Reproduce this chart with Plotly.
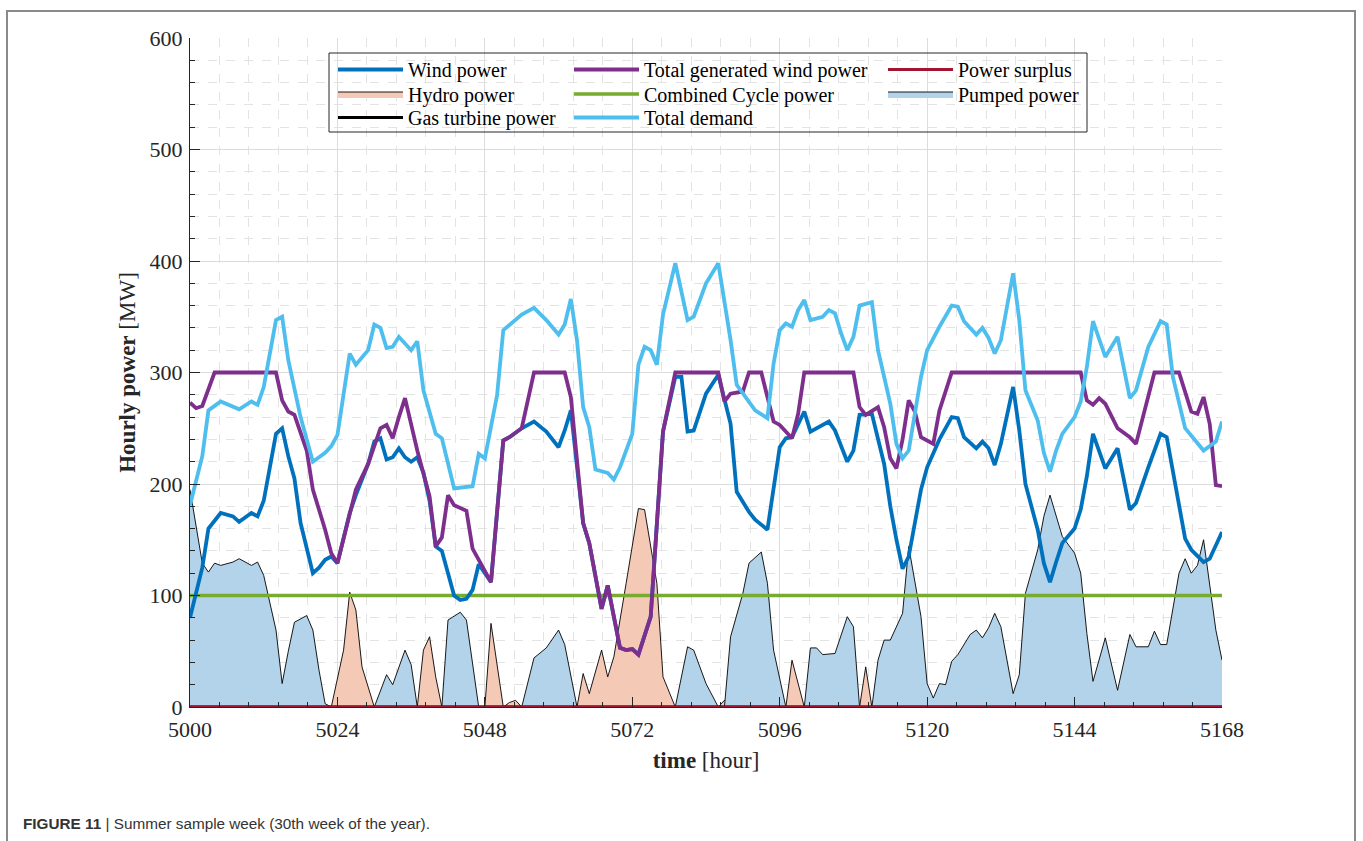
import plotly.graph_objects as go

# ---------------- data ----------------
wind_hours = [5000, 5002, 5003, 5005, 5007, 5008, 5010, 5011, 5012, 5014, 5015, 5016, 5017, 5018,
              5020, 5021, 5022, 5023, 5024, 5026, 5027, 5029, 5030, 5031, 5032, 5033, 5034, 5035,
              5036, 5037, 5038, 5039, 5040, 5041, 5042, 5043, 5044, 5045, 5046, 5047, 5048, 5049,
              5051, 5052, 5054, 5056, 5058, 5060, 5061, 5062, 5064, 5065, 5067, 5068, 5070, 5071,
              5072, 5073, 5075, 5077, 5079, 5080, 5081, 5082, 5084, 5086, 5088, 5089, 5091, 5092,
              5094, 5096, 5097, 5098, 5100, 5101, 5104, 5105, 5107, 5108, 5109, 5111, 5113, 5114,
              5115, 5116, 5117, 5119, 5120, 5121, 5122, 5124, 5125, 5126, 5128, 5129, 5130, 5131,
              5132, 5134, 5135, 5136, 5138, 5139, 5140, 5141, 5142, 5144, 5145, 5146, 5147, 5149,
              5151, 5153, 5154, 5156, 5158, 5159, 5160, 5162, 5163, 5165, 5166, 5168]
wind_mw = [80, 125, 160, 174, 171, 166, 174, 171, 185, 245, 250, 225, 205, 165,
           120, 125, 132, 135, 129, 174, 190, 218, 238, 241, 222, 224, 232, 224,
           220, 224, 210, 185, 144, 140, 120, 100, 96, 97, 105, 128, 120, 112,
           239, 242, 250, 256, 247, 233, 248, 266, 165, 147, 88, 109, 53, 51,
           52, 47, 81, 247, 296, 296, 247, 248, 281, 298, 254, 193, 175, 168,
           159, 233, 241, 242, 265, 247, 256, 248, 220, 230, 262, 263, 218, 180,
           150, 124, 135, 195, 215, 228, 240, 260, 259, 242, 232, 238, 232, 217,
           236, 287, 248, 200, 159, 129, 112, 130, 147, 160, 177, 207, 245, 214,
           232, 177, 183, 215, 245, 242, 213, 151, 141, 130, 133, 157]

total_wind_hours = [5000, 5001, 5002, 5003, 5004, 5014, 5015, 5016, 5017, 5019, 5020, 5022, 5023,
                    5024, 5026, 5027, 5029, 5031, 5032, 5033, 5034, 5035, 5037, 5039, 5040, 5041,
                    5042, 5043, 5045, 5046, 5049, 5051, 5052, 5054, 5056, 5061, 5062, 5064, 5065,
                    5067, 5068, 5070, 5071, 5072, 5073, 5075, 5077, 5079, 5086, 5087, 5088, 5090,
                    5091, 5093, 5095, 5096, 5098, 5099, 5100, 5108, 5109, 5110, 5112, 5113, 5114,
                    5115, 5116, 5117, 5118, 5119, 5121, 5122, 5124, 5145, 5146, 5147, 5148, 5149,
                    5151, 5153, 5154, 5157, 5161, 5163, 5164, 5165, 5166, 5167, 5168]
total_wind_mw = [273, 268, 270, 285, 300, 300, 275, 265, 262, 230, 195, 159, 138,
                 129, 174, 195, 218, 250, 253, 241, 260, 277, 230, 189, 144, 152,
                 190, 181, 176, 142, 112, 239, 242, 250, 300, 300, 278, 165, 147,
                 88, 109, 53, 51, 52, 47, 81, 247, 300, 300, 274, 281, 283,
                 300, 300, 256, 253, 241, 263, 300, 300, 269, 262, 269, 251, 223,
                 214, 240, 275, 265, 242, 236, 266, 300, 300, 275, 271, 277, 272,
                 250, 242, 236, 300, 300, 265, 263, 278, 254, 199, 198]

demand_hours = [5000, 5002, 5003, 5005, 5008, 5010, 5011, 5012, 5014, 5015, 5016, 5018, 5020,
                5022, 5023, 5024, 5026, 5027, 5029, 5030, 5031, 5032, 5033, 5034, 5036, 5037,
                5038, 5040, 5041, 5043, 5046, 5047, 5048, 5050, 5051, 5053, 5054, 5056, 5058,
                5060, 5061, 5062, 5063, 5064, 5065, 5066, 5068, 5069, 5070, 5072, 5073, 5074,
                5075, 5076, 5077, 5079, 5081, 5082, 5084, 5086, 5088, 5089, 5091, 5092, 5094,
                5095, 5096, 5097, 5098, 5099, 5100, 5101, 5103, 5104, 5105, 5106, 5107, 5108,
                5109, 5111, 5112, 5114, 5115, 5116, 5117, 5119, 5120, 5122, 5124, 5125, 5126,
                5128, 5129, 5130, 5131, 5132, 5134, 5135, 5136, 5138, 5139, 5140, 5141, 5142,
                5144, 5145, 5146, 5147, 5149, 5151, 5153, 5154, 5156, 5158, 5159, 5160, 5162,
                5164, 5165, 5167, 5168]
demand_mw = [181, 225, 266, 274, 267, 274, 271, 287, 347, 350, 311, 260, 220,
             228, 234, 244, 317, 307, 320, 343, 340, 322, 323, 332, 320, 328,
             284, 245, 241, 196, 198, 227, 223, 280, 338, 347, 352, 358, 347,
             334, 343, 366, 329, 269, 251, 213, 210, 204, 215, 245, 307, 323,
             320, 307, 352, 398, 347, 350, 380, 398, 329, 289, 274, 266, 259,
             308, 338, 344, 341, 356, 365, 347, 350, 356, 353, 335, 320, 332,
             360, 363, 320, 272, 236, 223, 230, 296, 320, 341, 360, 359, 346,
             334, 340, 331, 317, 329, 389, 347, 284, 257, 228, 211, 230, 245,
             260, 274, 305, 346, 314, 332, 277, 284, 323, 346, 343, 296, 250,
             237, 230, 238, 256]

cc_hours = [5000, 5168]
cc_mw = [100, 100]

gas_hours = [5000, 5168]
gas_mw = [0, 0]

surplus_hours = [5000, 5168]
surplus_mw = [0, 0]

hydro_hours = [5000, 5023, 5025, 5026, 5027, 5028, 5030, 5037, 5038, 5039, 5040, 5041, 5048,
               5049, 5051, 5052, 5053, 5054, 5063, 5064, 5065, 5067, 5068, 5069, 5071, 5073,
               5074, 5076, 5077, 5079, 5086, 5087, 5088, 5097, 5098, 5099, 5100, 5109, 5110,
               5111, 5168]
hydro_mw = [0, 0, 51, 103, 87, 36, 0, 0, 51, 63, 27, 0, 0,
            75, 0, 4, 6, 0, 0, 30, 12, 51, 27, 45, 111, 178,
            177, 111, 27, 0, 0, 6, 0, 0, 42, 21, 0, 0, 36,
            0, 0]

pumped_hours = [5000, 5002, 5003, 5004, 5005, 5007, 5008, 5010, 5011, 5012, 5014, 5015, 5016,
                5017, 5019, 5020, 5021, 5022, 5023, 5030, 5032, 5033, 5035, 5036, 5037, 5041,
                5042, 5044, 5045, 5047, 5054, 5056, 5058, 5060, 5061, 5063, 5079, 5081, 5082,
                5084, 5086, 5087, 5088, 5090, 5091, 5093, 5094, 5095, 5097, 5100, 5101, 5102,
                5103, 5105, 5107, 5108, 5109, 5111, 5112, 5113, 5114, 5116, 5117, 5119, 5120,
                5121, 5122, 5123, 5124, 5125, 5127, 5128, 5129, 5130, 5131, 5132, 5134, 5135,
                5136, 5138, 5139, 5140, 5142, 5144, 5145, 5146, 5147, 5149, 5151, 5153, 5154,
                5156, 5157, 5158, 5159, 5161, 5162, 5163, 5164, 5165, 5167, 5168]
pumped_mw = [195, 129, 121, 129, 127, 130, 133, 127, 130, 118, 69, 21, 50,
             76, 82, 69, 33, 3, 0, 0, 29, 20, 51, 38, 0, 0,
             78, 85, 78, 0, 0, 44, 53, 69, 56, 0, 0, 54, 51,
             21, 0, 0, 63, 102, 129, 139, 111, 51, 0, 0, 53, 53,
             47, 48, 81, 72, 0, 0, 42, 60, 60, 84, 144, 81, 21,
             8, 21, 20, 41, 47, 65, 69, 62, 71, 84, 72, 12, 29,
             102, 141, 171, 190, 153, 138, 120, 66, 23, 62, 15, 65, 54,
             54, 68, 56, 56, 120, 133, 120, 127, 150, 69, 42]

x_ticks = [5000, 5024, 5048, 5072, 5096, 5120, 5144, 5168]
y_ticks = [0, 100, 200, 300, 400, 500, 600]

# ---------------- figure ----------------
SERIF = "Liberation Serif, Times New Roman, serif"
L, R, T, B = 190, 141, 38, 134
W, H = 1363, 841
pw, ph = W - L - R, H - T - B


def px_x(p):
    return (p - L) / pw


def px_y(p):
    return (H - B - p) / ph


fig = go.Figure()
LW = 3.8
fig.add_trace(go.Scatter(x=hydro_hours, y=hydro_mw, mode="lines", fill="tozeroy",
                         fillcolor="#F4C9B6", line=dict(color="black", width=0.9),
                         name="Hydro power", legend="legend4"))
fig.add_trace(go.Scatter(x=pumped_hours, y=pumped_mw, mode="lines", fill="tozeroy",
                         fillcolor="#B2D3EA", line=dict(color="black", width=0.9),
                         name="Pumped power", legend="legend6"))
fig.add_trace(go.Scatter(x=gas_hours, y=gas_mw, mode="lines", cliponaxis=False,
                         line=dict(color="black", width=3),
                         name="Gas turbine power", legend="legend7"))
fig.add_trace(go.Scatter(x=surplus_hours, y=surplus_mw, mode="lines", cliponaxis=False,
                         line=dict(color="#A2142F", width=3),
                         name="Power surplus", legend="legend3"))
fig.add_trace(go.Scatter(x=cc_hours, y=cc_mw, mode="lines",
                         line=dict(color="#77AC30", width=3.5),
                         name="Combined Cycle power", legend="legend5"))
fig.add_trace(go.Scatter(x=wind_hours, y=wind_mw, mode="lines",
                         line=dict(color="#0072BD", width=LW),
                         name="Wind power", legend="legend"))
fig.add_trace(go.Scatter(x=total_wind_hours, y=total_wind_mw, mode="lines",
                         line=dict(color="#7E2F8E", width=LW),
                         name="Total generated wind power", legend="legend2"))
fig.add_trace(go.Scatter(x=demand_hours, y=demand_mw, mode="lines",
                         line=dict(color="#4DBEEE", width=LW),
                         name="Total demand", legend="legend8"))

leg_common = dict(bgcolor="rgba(0,0,0,0)", borderwidth=0, orientation="v",
                  xanchor="left", yanchor="top", itemwidth=65,
                  font=dict(family=SERIF, size=20, color="black"), itemclick=False)
col_text_x = [408, 644, 958]
row_sym_y = [71, 95.5, 119]
legend_cells = {
    "legend": (0, 0), "legend2": (1, 0), "legend3": (2, 0),
    "legend4": (0, 1), "legend5": (1, 1), "legend6": (2, 1),
    "legend7": (0, 2), "legend8": (1, 2),
}
legend_layout = {}
for key, (c, r) in legend_cells.items():
    legend_layout[key] = dict(x=px_x(col_text_x[c] - 75), y=px_y(row_sym_y[r] - 21), **leg_common)

fig.update_layout(
    width=W, height=H,
    margin=dict(l=L, r=R, t=T, b=B, pad=0),
    paper_bgcolor="white", plot_bgcolor="white",
    showlegend=True,
    **legend_layout,
    xaxis=dict(range=[5000, 5168], tickmode="array", tickvals=x_ticks,
               showline=True, linecolor="#262626", linewidth=1, mirror=False,
               ticks="inside", ticklen=10, tickcolor="#262626", tickwidth=1,
               showgrid=True, gridcolor="#DCDCDC", gridwidth=1, zeroline=False,
               tickfont=dict(family=SERIF, size=22, color="#262626"),
               ticklabelstandoff=3,
               minor=dict(dtick=4.8, tick0=5000, showgrid=True, gridcolor="#E3E3E3",
                          griddash="dash", gridwidth=1, ticks="inside", ticklen=5,
                          tickcolor="#262626"),
               title=dict(text="<b>time</b> [hour]",
                          font=dict(family=SERIF, size=23, color="#262626"), standoff=10)),
    yaxis=dict(range=[0, 600], tickmode="array", tickvals=y_ticks,
               showline=True, linecolor="#262626", linewidth=1, mirror=False,
               ticks="inside", ticklen=10, tickcolor="#262626", tickwidth=1,
               showgrid=True, gridcolor="#DCDCDC", gridwidth=1, zeroline=False,
               tickfont=dict(family=SERIF, size=22, color="#262626"),
               ticklabelstandoff=2,
               minor=dict(dtick=20, tick0=0, showgrid=True, gridcolor="#E3E3E3",
                          griddash="dash", gridwidth=1, ticks="inside", ticklen=5,
                          tickcolor="#262626"),
               title=dict(text="<b>Hourly power</b> [MW]",
                          font=dict(family=SERIF, size=23, color="#262626"), standoff=7)),
    shapes=[
        dict(type="rect", xref="paper", yref="paper",
             x0=px_x(329), x1=px_x(1087), y0=px_y(132), y1=px_y(53),
             line=dict(color="#262626", width=1), fillcolor="rgba(0,0,0,0)", layer="above"),
        dict(type="rect", xref="paper", yref="paper",
             x0=px_x(7), x1=px_x(1355), y0=px_y(860), y1=px_y(11),
             line=dict(color="#8A8A8A", width=2), fillcolor="rgba(0,0,0,0)", layer="below"),
    ],
    annotations=[
        dict(text="<b>FIGURE 11</b> | Summer sample week (30th week of the year).",
             xref="paper", yref="paper", x=px_x(21), y=px_y(823),
             xanchor="left", yanchor="middle", showarrow=False,
             font=dict(family="Liberation Sans Narrow, Liberation Sans, Arial", size=15.3,
                       color="#333333")),
    ],
)

fig.write_html("out.html", config={"displayModeBar": False},
               post_script="document.body.style.margin='0px';")
